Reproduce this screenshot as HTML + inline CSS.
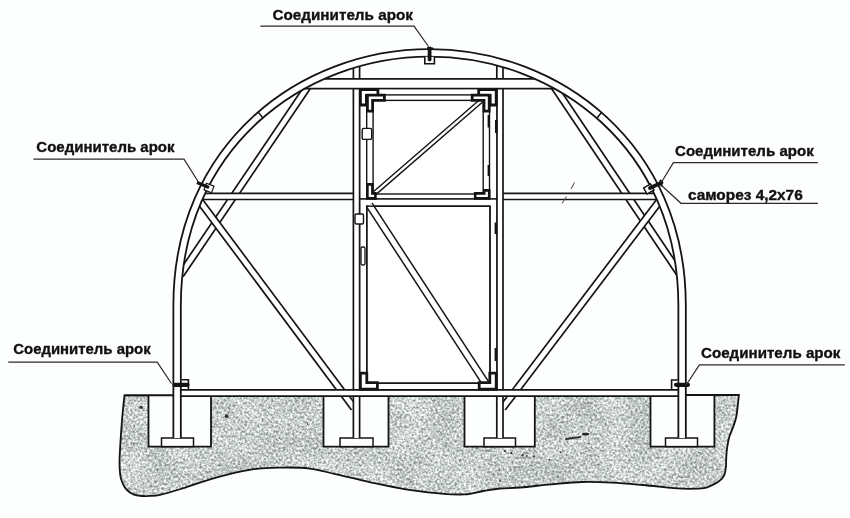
<!DOCTYPE html>
<html><head><meta charset="utf-8"><style>
html,body{margin:0;padding:0;background:#fff;}
svg{display:block;}
</style></head><body>
<svg width="850" height="518" viewBox="0 0 850 518">
<defs>
<filter id="spk" x="0" y="0" width="100%" height="100%" color-interpolation-filters="sRGB"><feTurbulence type="fractalNoise" baseFrequency="0.42" numOctaves="3" seed="7" result="n0"/><feColorMatrix in="n0" type="matrix" values="1 0 0 0 0  1 0 0 0 0  1 0 0 0 0  0 0 0 0 1" result="n"/><feTurbulence type="fractalNoise" baseFrequency="0.035" numOctaves="2" seed="11" result="m0"/><feColorMatrix in="m0" type="matrix" values="1 0 0 0 0  1 0 0 0 0  1 0 0 0 0  0 0 0 0 1" result="m"/><feComposite in="n" in2="m" operator="arithmetic" k1="0" k2="1" k3="0.2" k4="-0.1" result="nm"/><feColorMatrix in="nm" type="matrix" values="0.85 0 0 0 0.36  0.85 0 0 0 0.385  0.85 0 0 0 0.38  0 0 0 0 1" result="c"/><feGaussianBlur in="c" stdDeviation="0.35" result="cb"/><feComposite in="cb" in2="SourceGraphic" operator="in"/></filter><clipPath id="gclip"><path d="M124.5,395.4 L738.9,395.0  C738.8,396.2 738.5,398.6 738.1,402.1 C737.7,405.7 737.2,412.2 736.4,416.3 C735.6,420.4 734.6,423.0 733.4,426.4 C732.2,429.8 730.4,433.2 729.4,436.6 C728.4,440.0 727.8,443.3 727.3,446.7 C726.8,450.1 726.5,453.4 726.3,456.8 C726.1,460.2 726.2,463.9 725.9,466.9 C725.6,469.9 725.4,472.6 724.3,475.0 C723.2,477.4 721.2,479.4 719.2,481.1 C717.2,482.8 714.6,483.9 712.1,485.1 C709.6,486.3 707.9,487.6 704.0,488.2 C700.1,488.8 693.9,488.8 688.8,488.8 C683.7,488.8 681.1,488.7 673.5,488.1 C665.9,487.5 653.1,485.9 642.9,485.0 C632.7,484.1 622.5,483.1 612.3,482.6 C602.1,482.1 591.9,481.7 581.7,482.0 C571.5,482.3 561.4,483.5 551.2,484.4 C541.0,485.3 529.1,486.8 520.6,487.5 C512.1,488.2 506.2,487.9 500.0,488.5 C493.8,489.1 489.4,490.0 483.5,491.0 C477.6,492.0 471.8,494.0 464.7,494.4 C457.6,494.8 451.0,494.4 441.2,493.6 C431.4,492.8 417.7,491.3 405.9,489.4 C394.1,487.5 382.4,484.9 370.6,482.4 C358.8,479.8 345.4,476.4 335.3,474.1 C325.2,471.8 319.2,469.7 310.0,468.6 C300.8,467.5 289.8,467.4 280.0,467.6 C270.2,467.8 261.9,467.9 251.2,469.6 C240.5,471.3 227.7,474.4 215.9,477.6 C204.1,480.8 189.9,486.1 180.6,489.0 C171.3,491.9 165.1,493.7 160.0,494.8 C154.9,495.9 153.0,495.7 150.0,495.9 C147.0,496.1 144.7,496.3 141.9,496.0 C139.1,495.7 135.9,495.3 133.4,494.3 C130.9,493.3 128.8,491.8 127.0,490.0 C125.2,488.2 123.9,486.1 122.8,483.6 C121.7,481.1 120.7,479.3 120.2,475.0 C119.7,470.7 119.4,465.1 119.6,458.0 C119.8,450.9 120.6,440.4 121.1,432.6 C121.6,424.8 122.2,417.5 122.8,411.3 C123.4,405.1 124.2,398.0 124.5,395.4 Z"/></clipPath><clipPath id="aclip"><path d="M177.10,438.00L177.10,305.40C177.10,147.08 300.83,52.90 429.60,52.90C558.38,52.90 682.10,147.08 682.10,305.40L682.10,438.00Z"/></clipPath>
</defs>
<rect width="850" height="518" fill="#fdfefe"/>
<path d="M124.5,395.4 L738.9,395.0  C738.8,396.2 738.5,398.6 738.1,402.1 C737.7,405.7 737.2,412.2 736.4,416.3 C735.6,420.4 734.6,423.0 733.4,426.4 C732.2,429.8 730.4,433.2 729.4,436.6 C728.4,440.0 727.8,443.3 727.3,446.7 C726.8,450.1 726.5,453.4 726.3,456.8 C726.1,460.2 726.2,463.9 725.9,466.9 C725.6,469.9 725.4,472.6 724.3,475.0 C723.2,477.4 721.2,479.4 719.2,481.1 C717.2,482.8 714.6,483.9 712.1,485.1 C709.6,486.3 707.9,487.6 704.0,488.2 C700.1,488.8 693.9,488.8 688.8,488.8 C683.7,488.8 681.1,488.7 673.5,488.1 C665.9,487.5 653.1,485.9 642.9,485.0 C632.7,484.1 622.5,483.1 612.3,482.6 C602.1,482.1 591.9,481.7 581.7,482.0 C571.5,482.3 561.4,483.5 551.2,484.4 C541.0,485.3 529.1,486.8 520.6,487.5 C512.1,488.2 506.2,487.9 500.0,488.5 C493.8,489.1 489.4,490.0 483.5,491.0 C477.6,492.0 471.8,494.0 464.7,494.4 C457.6,494.8 451.0,494.4 441.2,493.6 C431.4,492.8 417.7,491.3 405.9,489.4 C394.1,487.5 382.4,484.9 370.6,482.4 C358.8,479.8 345.4,476.4 335.3,474.1 C325.2,471.8 319.2,469.7 310.0,468.6 C300.8,467.5 289.8,467.4 280.0,467.6 C270.2,467.8 261.9,467.9 251.2,469.6 C240.5,471.3 227.7,474.4 215.9,477.6 C204.1,480.8 189.9,486.1 180.6,489.0 C171.3,491.9 165.1,493.7 160.0,494.8 C154.9,495.9 153.0,495.7 150.0,495.9 C147.0,496.1 144.7,496.3 141.9,496.0 C139.1,495.7 135.9,495.3 133.4,494.3 C130.9,493.3 128.8,491.8 127.0,490.0 C125.2,488.2 123.9,486.1 122.8,483.6 C121.7,481.1 120.7,479.3 120.2,475.0 C119.7,470.7 119.4,465.1 119.6,458.0 C119.8,450.9 120.6,440.4 121.1,432.6 C121.6,424.8 122.2,417.5 122.8,411.3 C123.4,405.1 124.2,398.0 124.5,395.4 Z" fill="#cfd4d3"/>
<g clip-path="url(#gclip)"><rect x="110" y="390" width="640" height="110" fill="#000" filter="url(#spk)"/></g>
<path d="M124.5,395.4 L738.9,395.0  C738.8,396.2 738.5,398.6 738.1,402.1 C737.7,405.7 737.2,412.2 736.4,416.3 C735.6,420.4 734.6,423.0 733.4,426.4 C732.2,429.8 730.4,433.2 729.4,436.6 C728.4,440.0 727.8,443.3 727.3,446.7 C726.8,450.1 726.5,453.4 726.3,456.8 C726.1,460.2 726.2,463.9 725.9,466.9 C725.6,469.9 725.4,472.6 724.3,475.0 C723.2,477.4 721.2,479.4 719.2,481.1 C717.2,482.8 714.6,483.9 712.1,485.1 C709.6,486.3 707.9,487.6 704.0,488.2 C700.1,488.8 693.9,488.8 688.8,488.8 C683.7,488.8 681.1,488.7 673.5,488.1 C665.9,487.5 653.1,485.9 642.9,485.0 C632.7,484.1 622.5,483.1 612.3,482.6 C602.1,482.1 591.9,481.7 581.7,482.0 C571.5,482.3 561.4,483.5 551.2,484.4 C541.0,485.3 529.1,486.8 520.6,487.5 C512.1,488.2 506.2,487.9 500.0,488.5 C493.8,489.1 489.4,490.0 483.5,491.0 C477.6,492.0 471.8,494.0 464.7,494.4 C457.6,494.8 451.0,494.4 441.2,493.6 C431.4,492.8 417.7,491.3 405.9,489.4 C394.1,487.5 382.4,484.9 370.6,482.4 C358.8,479.8 345.4,476.4 335.3,474.1 C325.2,471.8 319.2,469.7 310.0,468.6 C300.8,467.5 289.8,467.4 280.0,467.6 C270.2,467.8 261.9,467.9 251.2,469.6 C240.5,471.3 227.7,474.4 215.9,477.6 C204.1,480.8 189.9,486.1 180.6,489.0 C171.3,491.9 165.1,493.7 160.0,494.8 C154.9,495.9 153.0,495.7 150.0,495.9 C147.0,496.1 144.7,496.3 141.9,496.0 C139.1,495.7 135.9,495.3 133.4,494.3 C130.9,493.3 128.8,491.8 127.0,490.0 C125.2,488.2 123.9,486.1 122.8,483.6 C121.7,481.1 120.7,479.3 120.2,475.0 C119.7,470.7 119.4,465.1 119.6,458.0 C119.8,450.9 120.6,440.4 121.1,432.6 C121.6,424.8 122.2,417.5 122.8,411.3 C123.4,405.1 124.2,398.0 124.5,395.4 Z" fill="none" stroke="#141414" stroke-width="1.8"/>
<path d="M566,439 L573,438 L580.5,436.8" stroke="#333" stroke-width="1.8" fill="none" stroke-linecap="round"/>
<ellipse cx="585.5" cy="434.2" rx="3.6" ry="1.4" fill="#2a2a2a"/>
<circle cx="504.8" cy="451" r="1.1" fill="#333"/>
<circle cx="511.2" cy="453.2" r="1.1" fill="#333"/>
<circle cx="522.5" cy="455.3" r="1.2" fill="#333"/>
<circle cx="526.7" cy="456" r="0.9" fill="#333"/>
<circle cx="533.8" cy="456.4" r="1.0" fill="#333"/>
<circle cx="560.6" cy="452.2" r="0.9" fill="#333"/>
<circle cx="549.3" cy="459.5" r="0.8" fill="#333"/>
<circle cx="141.2" cy="407.3" r="1.6" fill="#333"/>
<circle cx="226.6" cy="416.2" r="1.9" fill="#333"/>
<circle cx="307.5" cy="424" r="0.8" fill="#333"/>
<circle cx="499.5" cy="470" r="0.8" fill="#333"/>
<circle cx="500" cy="481" r="0.9" fill="#333"/>
<path d="M512.6,485 L555,458.1 L578,442" stroke="#aab4b4" stroke-width="1" fill="none" opacity="0.7"/>
<path d="M148.5,395.5 L148.5,446.6 L211,446.6 L211,395.5" fill="#fdfefe" stroke="#141414" stroke-width="1.8"/>
<path d="M323.5,395.5 L323.5,446.6 L388.5,446.6 L388.5,395.5" fill="#fdfefe" stroke="#141414" stroke-width="1.8"/>
<path d="M464.5,395.5 L464.5,446.6 L534.8,446.6 L534.8,395.5" fill="#fdfefe" stroke="#141414" stroke-width="1.8"/>
<path d="M650.5,395.5 L650.5,446.6 L714.4,446.6 L714.4,395.5" fill="#fdfefe" stroke="#141414" stroke-width="1.8"/>
<path d="M124.5,395.4 L738.9,395.0" stroke="#141414" stroke-width="1.8"/>
<rect x="161.5" y="438" width="32.0" height="8.600000000000023" fill="#fdfefe" stroke="#141414" stroke-width="1.5"/>
<rect x="340" y="438" width="33" height="8.600000000000023" fill="#fdfefe" stroke="#141414" stroke-width="1.5"/>
<rect x="484" y="438" width="31.5" height="8.600000000000023" fill="#fdfefe" stroke="#141414" stroke-width="1.5"/>
<rect x="665.5" y="438" width="32.0" height="8.600000000000023" fill="#fdfefe" stroke="#141414" stroke-width="1.5"/>
<g clip-path="url(#aclip)">
<path d="M309.6,84.0L180.4,275.0" stroke="#141414" stroke-width="8.20" stroke-linecap="butt" fill="none"/>
<path d="M309.6,84.0L180.4,275.0" stroke="#fff" stroke-width="4.80" stroke-linecap="butt" fill="none"/>
<path d="M552.4,84.0L681.9,277.0" stroke="#141414" stroke-width="8.30" stroke-linecap="butt" fill="none"/>
<path d="M552.4,84.0L681.9,277.0" stroke="#fff" stroke-width="4.90" stroke-linecap="butt" fill="none"/>
<path d="M190.0,196.4L670.0,196.4" stroke="#141414" stroke-width="7.90" stroke-linecap="butt" fill="none"/>
<path d="M190.0,196.4L670.0,196.4" stroke="#fff" stroke-width="4.50" stroke-linecap="butt" fill="none"/>
<path d="M198.2,199.0L354.1,408.0" stroke="#141414" stroke-width="8.20" stroke-linecap="butt" fill="none"/>
<path d="M198.2,199.0L354.1,408.0" stroke="#fff" stroke-width="4.80" stroke-linecap="butt" fill="none"/>
<path d="M661.1,199.0L502.6,408.0" stroke="#141414" stroke-width="8.30" stroke-linecap="butt" fill="none"/>
<path d="M661.1,199.0L502.6,408.0" stroke="#fff" stroke-width="4.90" stroke-linecap="butt" fill="none"/>
<path d="M356.5,55.0L356.5,438.0" stroke="#141414" stroke-width="7.90" stroke-linecap="butt" fill="none"/>
<path d="M356.5,55.0L356.5,438.0" stroke="#fff" stroke-width="4.50" stroke-linecap="butt" fill="none"/>
<path d="M499.9,55.0L499.9,438.0" stroke="#141414" stroke-width="7.90" stroke-linecap="butt" fill="none"/>
<path d="M499.9,55.0L499.9,438.0" stroke="#fff" stroke-width="4.50" stroke-linecap="butt" fill="none"/>
<path d="M290.0,83.7L570.0,83.7" stroke="#141414" stroke-width="11.40" stroke-linecap="butt" fill="none"/>
<path d="M290.0,83.7L570.0,83.7" stroke="#fff" stroke-width="8.00" stroke-linecap="butt" fill="none"/>
<path d="M176.0,393.0L684.0,393.0" stroke="#141414" stroke-width="8.00" stroke-linecap="butt" fill="none"/>
<path d="M176.0,393.0L684.0,393.0" stroke="#fff" stroke-width="4.60" stroke-linecap="butt" fill="none"/>
<rect x="359.8" y="88.7" width="137.0" height="110.3" fill="#fff" stroke="#141414" stroke-width="1.4"/>
<rect x="366.7" y="94.9" width="122.80000000000001" height="104.1" fill="#fff" stroke="#141414" stroke-width="1.4"/>
<rect x="373.1" y="100.4" width="110.09999999999997" height="93.6" fill="#fff" stroke="#141414" stroke-width="1.4"/>
<path d="M374.0,193.7L481.7,100.4" stroke="#141414" stroke-width="5.20" stroke-linecap="butt" fill="none"/>
<path d="M374.0,193.7L481.7,100.4" stroke="#fff" stroke-width="2.40" stroke-linecap="butt" fill="none"/>
<rect x="359.8" y="199" width="137.0" height="190.7" fill="#fff" stroke="#141414" stroke-width="1.4"/>
<rect x="366.8" y="206.2" width="123.19999999999999" height="177.0" fill="#fff" stroke="#141414" stroke-width="1.4"/>
<path d="M369.3,205.0L485.8,383.5" stroke="#141414" stroke-width="8.10" stroke-linecap="butt" fill="none"/>
<path d="M369.3,205.0L485.8,383.5" stroke="#fff" stroke-width="5.10" stroke-linecap="butt" fill="none"/>
<rect x="366.8" y="206.2" width="123.19999999999999" height="177.0" fill="none" stroke="#141414" stroke-width="1.4"/>
<path d="M360.4,89.5 L377.9,89.5 L377.9,95.5 L366.4,95.5 L366.4,105.0 L360.4,105.0Z" fill="#fff" stroke="#141414" stroke-width="2.8" stroke-linejoin="miter"/>
<path d="M367.4,95.2 L384.4,95.2 L384.4,100.4 L372.6,100.4 L372.6,111.2 L367.4,111.2Z" fill="#fff" stroke="#141414" stroke-width="2.8" stroke-linejoin="miter"/>
<path d="M496.2,89.5 L478.7,89.5 L478.7,95.5 L490.2,95.5 L490.2,105.0 L496.2,105.0Z" fill="#fff" stroke="#141414" stroke-width="2.8" stroke-linejoin="miter"/>
<path d="M489.2,95.2 L472.2,95.2 L472.2,100.4 L484.0,100.4 L484.0,111.2 L489.2,111.2Z" fill="#fff" stroke="#141414" stroke-width="2.8" stroke-linejoin="miter"/>
<path d="M367.4,198.4 L375.4,198.4 L375.4,193.4 L372.4,193.4 L372.4,184.4 L367.4,184.4Z" fill="#fff" stroke="#141414" stroke-width="2.6" stroke-linejoin="miter"/>
<path d="M489.2,198.4 L475.2,198.4 L475.2,193.4 L484.2,193.4 L484.2,190.4 L489.2,190.4Z" fill="#fff" stroke="#141414" stroke-width="2.6" stroke-linejoin="miter"/>
<path d="M360.4,389.1 L377.4,389.1 L377.4,382.7 L366.8,382.7 L366.8,373.1 L360.4,373.1Z" fill="#fff" stroke="#141414" stroke-width="2.8" stroke-linejoin="miter"/>
<path d="M496.2,389.1 L479.2,389.1 L479.2,382.7 L489.8,382.7 L489.8,373.1 L496.2,373.1Z" fill="#fff" stroke="#141414" stroke-width="2.8" stroke-linejoin="miter"/>
<rect x="355" y="214" width="8.5" height="10" rx="1.5" fill="#fff" stroke="#141414" stroke-width="1.4"/>
<rect x="361" y="247" width="4" height="18" rx="1.5" fill="#fff" stroke="#141414" stroke-width="1.3"/>
<rect x="362.2" y="128.4" width="9.5" height="11" rx="1.5" fill="#fff" stroke="#141414" stroke-width="1.4"/>
<path d="M495.8,222.5 L495.8,234 M495.8,348 L495.8,361 M488.8,115 L488.8,127.5 M488.8,165 L488.8,176 M496.2,120 L496.2,133" stroke="#141414" stroke-width="2.4"/>
</g>
<path d="M177.10,438.00L177.10,305.40C177.10,147.08 300.83,52.90 429.60,52.90C558.38,52.90 682.10,147.08 682.10,305.40L682.10,438.00" stroke="#141414" stroke-width="9.25" fill="none"/>
<path d="M177.10,438.00L177.10,305.40C177.10,147.08 300.83,52.90 429.60,52.90C558.38,52.90 682.10,147.08 682.10,305.40L682.10,438.00" stroke="#fff" stroke-width="5.65" fill="none"/>
<path d="M258.3,112.2 L263.2,118.2" stroke="#141414" stroke-width="1.5"/>
<path d="M601.7,112.2 L596.8,118.2" stroke="#141414" stroke-width="1.5"/>
<path d="M424.8,56.8 L424.8,63.8 L434.4,63.8 L434.4,56.8" fill="#fff" stroke="#141414" stroke-width="1.6"/>
<path d="M429.6,48.5 L429.6,59.5" stroke="#141414" stroke-width="3.8" stroke-linecap="round"/>
<path d="M428,47.8 L432.5,48.5" stroke="#141414" stroke-width="2" stroke-linecap="round"/>
<rect x="205" y="184.5" width="8" height="7" fill="#fff" stroke="#141414" stroke-width="1.2" transform="rotate(20 209 188)"/>
<path d="M197,182.5 L209,187.5" stroke="#141414" stroke-width="3.2"/>
<rect x="644.8" y="185.5" width="8" height="7" fill="#fff" stroke="#141414" stroke-width="1.5" transform="rotate(-30 648.8 189)"/>
<path d="M650,188 L661.5,182.6" stroke="#141414" stroke-width="3.8" stroke-linecap="round"/>
<path d="M660.5,180.8 L661.5,185.4" stroke="#141414" stroke-width="2.4" stroke-linecap="round"/>
<path d="M181.6,379.7 L188.4,379.7 L188.4,389.3" fill="#fff" stroke="#141414" stroke-width="1.6"/>
<path d="M174.5,384.8 L187.5,384.8" stroke="#141414" stroke-width="4.2" stroke-linecap="round"/>
<path d="M678.5,380 L671.6,380 L671.6,389.3" fill="#fff" stroke="#141414" stroke-width="1.6"/>
<path d="M676,384.8 L688,384.8" stroke="#141414" stroke-width="4.2" stroke-linecap="round"/>
<path d="M574.5,182.5 L571,189 M566.5,196.5 L562,203.5" stroke="#444" stroke-width="1" fill="none"/>
<path d="M260.4,26.1 L414,26.1 L428.5,46.5" fill="none" stroke="#2a2a2a" stroke-width="1.2"/>
<path d="M33.4,159.1 L184,159.1 L199,183" fill="none" stroke="#2a2a2a" stroke-width="1.2"/>
<path d="M817.9,162.6 L673.4,162.6 L661,183" fill="none" stroke="#2a2a2a" stroke-width="1.2"/>
<path d="M661,185 L681,203.3 L817.9,203.3" fill="none" stroke="#2a2a2a" stroke-width="1.2"/>
<path d="M8.2,362.2 L157.2,362.2 L171.5,383.5" fill="none" stroke="#2a2a2a" stroke-width="1.2"/>
<path d="M844.8,364.8 L699.4,364.8 L686.5,384.5" fill="none" stroke="#2a2a2a" stroke-width="1.2"/>
<g opacity="0.995">
<text x="272.5" y="20.0" textLength="140.4" lengthAdjust="spacingAndGlyphs" font-family="Liberation Sans, sans-serif" font-weight="bold" font-size="15.2" fill="#111" stroke="#111" stroke-width="0.35">Соединитель арок</text>
<text x="36.3" y="151.6" textLength="138.2" lengthAdjust="spacingAndGlyphs" font-family="Liberation Sans, sans-serif" font-weight="bold" font-size="15.2" fill="#111" stroke="#111" stroke-width="0.35">Соединитель арок</text>
<text x="675.0" y="156.2" textLength="138.7" lengthAdjust="spacingAndGlyphs" font-family="Liberation Sans, sans-serif" font-weight="bold" font-size="15.2" fill="#111" stroke="#111" stroke-width="0.35">Соединитель арок</text>
<text x="687.9" y="199.9" textLength="114.8" lengthAdjust="spacingAndGlyphs" font-family="Liberation Sans, sans-serif" font-weight="bold" font-size="14.4" fill="#111" stroke="#111" stroke-width="0.35">саморез 4,2х76</text>
<text x="13.3" y="353.8" textLength="137.3" lengthAdjust="spacingAndGlyphs" font-family="Liberation Sans, sans-serif" font-weight="bold" font-size="15.2" fill="#111" stroke="#111" stroke-width="0.35">Соединитель арок</text>
<text x="701.0" y="358.2" textLength="139.4" lengthAdjust="spacingAndGlyphs" font-family="Liberation Sans, sans-serif" font-weight="bold" font-size="15.2" fill="#111" stroke="#111" stroke-width="0.35">Соединитель арок</text>
</g>
</svg>
</body></html>
